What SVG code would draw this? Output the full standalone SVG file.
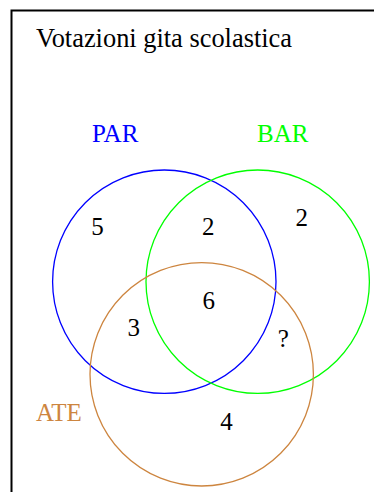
<svg xmlns="http://www.w3.org/2000/svg" width="374" height="492" viewBox="0 0 374 492">
  <style>
    text { font-family: "Liberation Serif", "Times New Roman", serif; }
    .title { font-size: 26.4px; fill: #000; }
    .lbl { font-size: 25px; }
    .num { font-size: 25px; fill: #000; text-anchor: middle; }
    .set { fill: none; stroke-width: 1.3; }
  </style>
  <rect width="374" height="492" fill="#fff"/>
  <!-- frame -->
  <path d="M11.5 492 V10.5 H374" fill="none" stroke="#000" stroke-width="2"/>
  <text class="title" x="36" y="47">Votazioni gita scolastica</text>

  <g id="set-par">
    <circle class="set" cx="164.3" cy="281.7" r="111.7" stroke="#0000ff"/>
    <text class="lbl" x="92" y="142" fill="#0000ff">PAR</text>
  </g>
  <g id="set-bar">
    <circle class="set" cx="257.7" cy="281.7" r="111.7" stroke="#00ff00"/>
    <text class="lbl" x="257" y="142" fill="#00ff00">BAR</text>
  </g>
  <g id="set-ate">
    <circle class="set" cx="201.7" cy="374.3" r="111.7" stroke="#cd853f"/>
    <text class="lbl" x="36" y="421" fill="#cd853f">ATE</text>
  </g>

  <g id="counts">
    <text class="num" x="97.5" y="235">5</text>
    <text class="num" x="208.3" y="235">2</text>
    <text class="num" x="301.7" y="226">2</text>
    <text class="num" x="208.8" y="309">6</text>
    <text class="num" x="133.8" y="336">3</text>
    <text class="num" x="283.3" y="347">?</text>
    <text class="num" x="226.5" y="430">4</text>
  </g>
</svg>
